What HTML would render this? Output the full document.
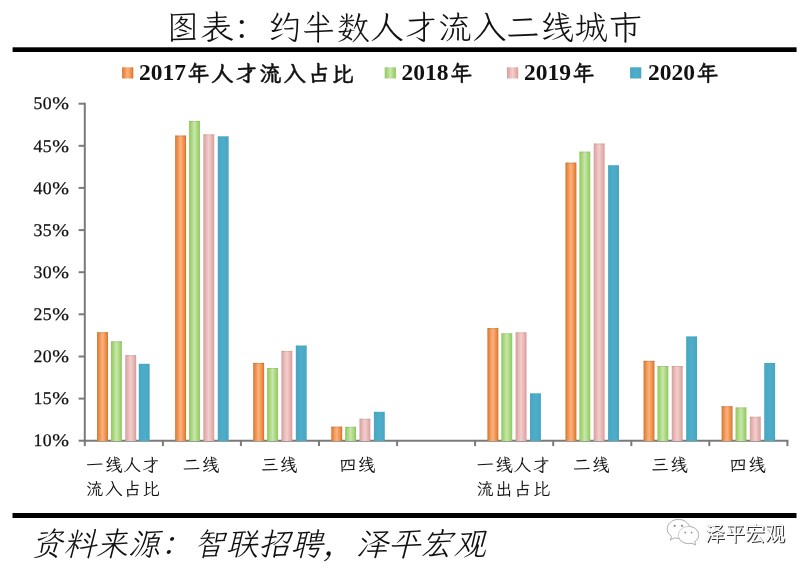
<!DOCTYPE html>
<html lang="zh-CN">
<head>
<meta charset="utf-8">
<title>图表：约半数人才流入二线城市</title>
<style>
html,body{margin:0;padding:0;background:#fff;}
body{width:811px;height:569px;overflow:hidden;}
svg{display:block;}
.kai{font-family:"Liberation Serif","LXGW WenKai TC","Noto Serif CJK SC",serif;}
.ser{font-family:"Liberation Serif","Noto Serif CJK SC",serif;}
.sans{font-family:"Liberation Sans","Noto Sans CJK SC",sans-serif;}
</style>
</head>
<body>
<svg width="811" height="569" viewBox="0 0 811 569">
<defs>
<linearGradient id="g0" x1="0" y1="0" x2="1" y2="0">
<stop offset="0" stop-color="#d06e2d"/><stop offset="0.14" stop-color="#e98840"/><stop offset="0.5" stop-color="#fdb27e"/><stop offset="0.86" stop-color="#e98840"/><stop offset="1" stop-color="#d06e2d"/>
</linearGradient>
<linearGradient id="g1" x1="0" y1="0" x2="1" y2="0">
<stop offset="0" stop-color="#8fc95c"/><stop offset="0.12" stop-color="#9bd06b"/><stop offset="0.5" stop-color="#c9e6ac"/><stop offset="0.88" stop-color="#9bd06b"/><stop offset="1" stop-color="#8fc95c"/>
</linearGradient>
<linearGradient id="g2" x1="0" y1="0" x2="1" y2="0">
<stop offset="0" stop-color="#d59a98"/><stop offset="0.12" stop-color="#e0aaa8"/><stop offset="0.5" stop-color="#f3cfcd"/><stop offset="0.88" stop-color="#e0aaa8"/><stop offset="1" stop-color="#d59a98"/>
</linearGradient>
<linearGradient id="g3" x1="0" y1="0" x2="1" y2="0">
<stop offset="0" stop-color="#47a6c2"/><stop offset="0.5" stop-color="#4eadc8"/><stop offset="1" stop-color="#47a6c2"/>
</linearGradient>
</defs>
<rect x="0" y="0" width="811" height="569" fill="#ffffff"/>
<text class="kai" x="166" y="38.6" font-size="33.6" letter-spacing="0.45" font-weight="300" fill="#111">图表<tspan class="ser" font-weight="400">：</tspan>约半数人才流入二线城市</text>
<rect x="12.6" y="47.3" width="784" height="4.7" fill="#000"/>
<rect x="122.1" y="67.3" width="11.2" height="11.2" fill="url(#g0)"/>
<text class="kai" x="139.0" y="80.4" font-size="23.5" font-weight="bold" fill="#111">2017<tspan font-size="22" letter-spacing="2" dx="1.6" dy="0.5" stroke="#111" stroke-width="0.45">年人才流入占比</tspan></text>
<rect x="384.7" y="67.3" width="11.2" height="11.2" fill="url(#g1)"/>
<text class="kai" x="401.6" y="80.4" font-size="23.5" font-weight="bold" fill="#111">2018<tspan font-size="22" letter-spacing="2" dx="1.6" dy="0.5" stroke="#111" stroke-width="0.45">年</tspan></text>
<rect x="507.0" y="67.3" width="11.2" height="11.2" fill="url(#g2)"/>
<text class="kai" x="524.0" y="80.4" font-size="23.5" font-weight="bold" fill="#111">2019<tspan font-size="22" letter-spacing="2" dx="1.6" dy="0.5" stroke="#111" stroke-width="0.45">年</tspan></text>
<rect x="630.1" y="67.3" width="11.2" height="11.2" fill="url(#g3)"/>
<text class="kai" x="648.0" y="80.4" font-size="23.5" font-weight="bold" fill="#111">2020<tspan font-size="22" letter-spacing="2" dx="1.6" dy="0.5" stroke="#111" stroke-width="0.45">年</tspan></text>
<text class="ser" transform="translate(33.5 109.4) skewX(0.05)" font-size="17.8" letter-spacing="0.3" fill="#111" stroke="#111" stroke-width="0.25">50<tspan dx="0.3" letter-spacing="0" textLength="16.7" lengthAdjust="spacingAndGlyphs">%</tspan></text>
<text class="ser" transform="translate(33.5 151.5) skewX(0.05)" font-size="17.8" letter-spacing="0.3" fill="#111" stroke="#111" stroke-width="0.25">45<tspan dx="0.3" letter-spacing="0" textLength="16.7" lengthAdjust="spacingAndGlyphs">%</tspan></text>
<text class="ser" transform="translate(33.5 193.6) skewX(0.05)" font-size="17.8" letter-spacing="0.3" fill="#111" stroke="#111" stroke-width="0.25">40<tspan dx="0.3" letter-spacing="0" textLength="16.7" lengthAdjust="spacingAndGlyphs">%</tspan></text>
<text class="ser" transform="translate(33.5 235.8) skewX(0.05)" font-size="17.8" letter-spacing="0.3" fill="#111" stroke="#111" stroke-width="0.25">35<tspan dx="0.3" letter-spacing="0" textLength="16.7" lengthAdjust="spacingAndGlyphs">%</tspan></text>
<text class="ser" transform="translate(33.5 277.9) skewX(0.05)" font-size="17.8" letter-spacing="0.3" fill="#111" stroke="#111" stroke-width="0.25">30<tspan dx="0.3" letter-spacing="0" textLength="16.7" lengthAdjust="spacingAndGlyphs">%</tspan></text>
<text class="ser" transform="translate(33.5 320.0) skewX(0.05)" font-size="17.8" letter-spacing="0.3" fill="#111" stroke="#111" stroke-width="0.25">25<tspan dx="0.3" letter-spacing="0" textLength="16.7" lengthAdjust="spacingAndGlyphs">%</tspan></text>
<text class="ser" transform="translate(33.5 362.2) skewX(0.05)" font-size="17.8" letter-spacing="0.3" fill="#111" stroke="#111" stroke-width="0.25">20<tspan dx="0.3" letter-spacing="0" textLength="16.7" lengthAdjust="spacingAndGlyphs">%</tspan></text>
<text class="ser" transform="translate(33.5 404.3) skewX(0.05)" font-size="17.8" letter-spacing="0.3" fill="#111" stroke="#111" stroke-width="0.25">15<tspan dx="0.3" letter-spacing="0" textLength="16.7" lengthAdjust="spacingAndGlyphs">%</tspan></text>
<text class="ser" transform="translate(33.5 446.4) skewX(0.05)" font-size="17.8" letter-spacing="0.3" fill="#111" stroke="#111" stroke-width="0.25">10<tspan dx="0.3" letter-spacing="0" textLength="16.7" lengthAdjust="spacingAndGlyphs">%</tspan></text>
<g stroke="#7a7a7a" stroke-width="2" fill="none">
<path d="M84.8 102.7 V441.7"/>
<path d="M83.8 440.7 H788.4"/>
<path d="M78.6 103.7 H84.8"/>
<path d="M78.6 145.8 H84.8"/>
<path d="M78.6 187.9 H84.8"/>
<path d="M78.6 230.1 H84.8"/>
<path d="M78.6 272.2 H84.8"/>
<path d="M78.6 314.3 H84.8"/>
<path d="M78.6 356.5 H84.8"/>
<path d="M78.6 398.6 H84.8"/>
<path d="M78.6 440.7 H84.8"/>
<path d="M84.8 440.7 V446.1"/>
<path d="M162.9 440.7 V446.1"/>
<path d="M240.9 440.7 V446.1"/>
<path d="M319.0 440.7 V446.1"/>
<path d="M397.1 440.7 V446.1"/>
<path d="M475.1 440.7 V446.1"/>
<path d="M553.2 440.7 V446.1"/>
<path d="M631.3 440.7 V446.1"/>
<path d="M709.3 440.7 V446.1"/>
<path d="M787.4 440.7 V446.1"/>
</g>
<rect x="97.08" y="332.2" width="10.9" height="108.8" fill="url(#g0)"/><rect x="97.08" y="332.2" width="10.9" height="1" fill="#000" fill-opacity="0.12"/>
<rect x="110.98" y="341.3" width="10.9" height="99.7" fill="url(#g1)"/><rect x="110.98" y="341.3" width="10.9" height="1" fill="#000" fill-opacity="0.08"/>
<rect x="125.28" y="355.1" width="10.9" height="85.9" fill="url(#g2)"/><rect x="125.28" y="355.1" width="10.9" height="1" fill="#000" fill-opacity="0.08"/>
<rect x="138.78" y="363.8" width="10.9" height="77.2" fill="url(#g3)"/><rect x="138.78" y="363.8" width="10.9" height="1" fill="#000" fill-opacity="0.02"/>
<rect x="175.15" y="135.5" width="10.9" height="305.5" fill="url(#g0)"/><rect x="175.15" y="135.5" width="10.9" height="1" fill="#000" fill-opacity="0.12"/>
<rect x="189.05" y="120.9" width="10.9" height="320.1" fill="url(#g1)"/><rect x="189.05" y="120.9" width="10.9" height="1" fill="#000" fill-opacity="0.08"/>
<rect x="203.35" y="134.3" width="10.9" height="306.7" fill="url(#g2)"/><rect x="203.35" y="134.3" width="10.9" height="1" fill="#000" fill-opacity="0.08"/>
<rect x="217.75" y="136.3" width="10.9" height="304.7" fill="url(#g3)"/><rect x="217.75" y="136.3" width="10.9" height="1" fill="#000" fill-opacity="0.02"/>
<rect x="253.22" y="362.9" width="10.9" height="78.1" fill="url(#g0)"/><rect x="253.22" y="362.9" width="10.9" height="1" fill="#000" fill-opacity="0.12"/>
<rect x="267.12" y="368.0" width="10.9" height="73.0" fill="url(#g1)"/><rect x="267.12" y="368.0" width="10.9" height="1" fill="#000" fill-opacity="0.08"/>
<rect x="281.42" y="350.9" width="10.9" height="90.1" fill="url(#g2)"/><rect x="281.42" y="350.9" width="10.9" height="1" fill="#000" fill-opacity="0.08"/>
<rect x="295.82" y="345.5" width="10.9" height="95.5" fill="url(#g3)"/><rect x="295.82" y="345.5" width="10.9" height="1" fill="#000" fill-opacity="0.02"/>
<rect x="331.28" y="426.6" width="10.9" height="14.4" fill="url(#g0)"/><rect x="331.28" y="426.6" width="10.9" height="1" fill="#000" fill-opacity="0.12"/>
<rect x="345.18" y="426.8" width="10.9" height="14.2" fill="url(#g1)"/><rect x="345.18" y="426.8" width="10.9" height="1" fill="#000" fill-opacity="0.08"/>
<rect x="359.48" y="418.7" width="10.9" height="22.3" fill="url(#g2)"/><rect x="359.48" y="418.7" width="10.9" height="1" fill="#000" fill-opacity="0.08"/>
<rect x="373.88" y="411.8" width="10.9" height="29.2" fill="url(#g3)"/><rect x="373.88" y="411.8" width="10.9" height="1" fill="#000" fill-opacity="0.02"/>
<rect x="487.42" y="328.1" width="10.9" height="112.9" fill="url(#g0)"/><rect x="487.42" y="328.1" width="10.9" height="1" fill="#000" fill-opacity="0.12"/>
<rect x="501.32" y="333.3" width="10.9" height="107.7" fill="url(#g1)"/><rect x="501.32" y="333.3" width="10.9" height="1" fill="#000" fill-opacity="0.08"/>
<rect x="515.62" y="332.3" width="10.9" height="108.7" fill="url(#g2)"/><rect x="515.62" y="332.3" width="10.9" height="1" fill="#000" fill-opacity="0.08"/>
<rect x="530.02" y="393.3" width="10.9" height="47.7" fill="url(#g3)"/><rect x="530.02" y="393.3" width="10.9" height="1" fill="#000" fill-opacity="0.02"/>
<rect x="565.48" y="162.6" width="10.9" height="278.4" fill="url(#g0)"/><rect x="565.48" y="162.6" width="10.9" height="1" fill="#000" fill-opacity="0.12"/>
<rect x="579.38" y="151.6" width="10.9" height="289.4" fill="url(#g1)"/><rect x="579.38" y="151.6" width="10.9" height="1" fill="#000" fill-opacity="0.08"/>
<rect x="593.68" y="143.5" width="10.9" height="297.5" fill="url(#g2)"/><rect x="593.68" y="143.5" width="10.9" height="1" fill="#000" fill-opacity="0.08"/>
<rect x="608.08" y="165.2" width="10.9" height="275.8" fill="url(#g3)"/><rect x="608.08" y="165.2" width="10.9" height="1" fill="#000" fill-opacity="0.02"/>
<rect x="643.55" y="360.8" width="10.9" height="80.2" fill="url(#g0)"/><rect x="643.55" y="360.8" width="10.9" height="1" fill="#000" fill-opacity="0.12"/>
<rect x="657.45" y="366.0" width="10.9" height="75.0" fill="url(#g1)"/><rect x="657.45" y="366.0" width="10.9" height="1" fill="#000" fill-opacity="0.08"/>
<rect x="671.75" y="366.0" width="10.9" height="75.0" fill="url(#g2)"/><rect x="671.75" y="366.0" width="10.9" height="1" fill="#000" fill-opacity="0.08"/>
<rect x="686.15" y="336.4" width="10.9" height="104.6" fill="url(#g3)"/><rect x="686.15" y="336.4" width="10.9" height="1" fill="#000" fill-opacity="0.02"/>
<rect x="721.62" y="406.2" width="10.9" height="34.8" fill="url(#g0)"/><rect x="721.62" y="406.2" width="10.9" height="1" fill="#000" fill-opacity="0.12"/>
<rect x="735.52" y="407.4" width="10.9" height="33.6" fill="url(#g1)"/><rect x="735.52" y="407.4" width="10.9" height="1" fill="#000" fill-opacity="0.08"/>
<rect x="749.82" y="416.7" width="10.9" height="24.3" fill="url(#g2)"/><rect x="749.82" y="416.7" width="10.9" height="1" fill="#000" fill-opacity="0.08"/>
<rect x="764.22" y="363.0" width="10.9" height="78.0" fill="url(#g3)"/><rect x="764.22" y="363.0" width="10.9" height="1" fill="#000" fill-opacity="0.02"/>
<text class="kai" x="123.4" y="471.2" font-size="17.6" letter-spacing="1.1" text-anchor="middle" fill="#111">一线人才</text>
<text class="kai" x="123.4" y="494.7" font-size="17.6" letter-spacing="1.1" text-anchor="middle" fill="#111">流入占比</text>
<text class="kai" x="201.5" y="471.2" font-size="17.6" letter-spacing="1.1" text-anchor="middle" fill="#111">二线</text>
<text class="kai" x="279.6" y="471.2" font-size="17.6" letter-spacing="1.1" text-anchor="middle" fill="#111">三线</text>
<text class="kai" x="357.6" y="471.2" font-size="17.6" letter-spacing="1.1" text-anchor="middle" fill="#111">四线</text>
<text class="kai" x="513.8" y="471.2" font-size="17.6" letter-spacing="1.1" text-anchor="middle" fill="#111">一线人才</text>
<text class="kai" x="513.8" y="494.7" font-size="17.6" letter-spacing="1.1" text-anchor="middle" fill="#111">流出占比</text>
<text class="kai" x="591.8" y="471.2" font-size="17.6" letter-spacing="1.1" text-anchor="middle" fill="#111">二线</text>
<text class="kai" x="669.9" y="471.2" font-size="17.6" letter-spacing="1.1" text-anchor="middle" fill="#111">三线</text>
<text class="kai" x="748.0" y="471.2" font-size="17.6" letter-spacing="1.1" text-anchor="middle" fill="#111">四线</text>
<rect x="12.5" y="513" width="784" height="5" fill="#000"/>
<text class="kai" x="30.5" y="555.3" font-size="32.5" font-weight="300" font-style="italic" fill="#111">资料来源<tspan class="ser" font-weight="400">：</tspan>智联招聘<tspan class="ser" font-weight="400">，</tspan>泽平宏观</text>
<g id="wm">
<g fill="#fff" stroke="#b5b5b5" stroke-width="0.7" style="filter:drop-shadow(0.7px 0.7px 0.3px rgba(0,0,0,0.55))">
<path d="M678.5 519.5c-6.2 0-11.2 4.2-11.2 9.4 0 3 1.7 5.600 4.300 7.300l-1.100 3.700 4.100-2.200c1.200 0.300 2.500 0.500 3.900 0.500 6.200 0 11.200-4.200 11.200-9.300 0-5.200-5-9.400-11.200-9.400z"/>
<path d="M688.500 526.500c-5.600 0-10.100 3.800-10.100 8.500s4.500 8.500 10.100 8.500c1.200 0 2.300-0.200 3.400-0.500l3.600 2-1-3.300c2.500-1.600 4.100-4 4.100-6.700 0-4.700-4.500-8.500-10.100-8.500z"/>
</g>
<g fill="#8a8a8a"><circle cx="674.700" cy="525.800" r="1.100"/><circle cx="682" cy="525.800" r="1.100"/><circle cx="685.200" cy="532.600" r="0.900"/><circle cx="691.600" cy="532.600" r="0.900"/></g>
<text class="sans" x="705" y="541" font-size="20" fill="#fff" style="text-shadow:1px 1px 0.3px rgba(0,0,0,0.8), 0 0 1px rgba(0,0,0,0.25)">泽平宏观</text>
</g>
</svg>
</body>
</html>
